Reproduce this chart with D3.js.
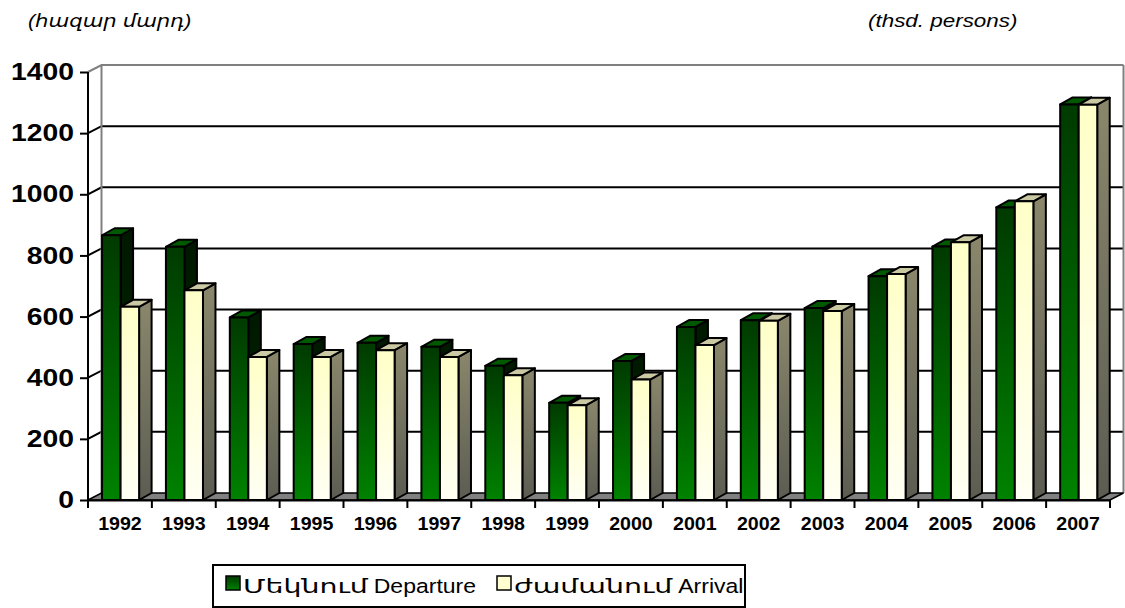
<!DOCTYPE html>
<html>
<head>
<meta charset="utf-8">
<script src="https://cdn.jsdelivr.net/npm/d3@7"></script>
<style>
  body { margin: 0; background: #fff; }
  svg { display: block; font-family: "Liberation Sans", Arial, "DejaVu Sans", sans-serif; }
</style>
</head>
<body>
<svg id="chart" width="1125" height="608"></svg>
<script>
// values (thousand persons)
const years = ["1992","1993","1994","1995","1996","1997","1998","1999",
               "2000","2001","2002","2003","2004","2005","2006","2007"];
const departure = [866, 828, 597, 510, 514, 501, 439, 318, 455, 566, 588, 628, 732, 829, 957, 1294];
const arrival   = [632, 686, 468, 468, 490, 468, 408, 310, 394, 507, 586, 618, 739, 843, 977, 1293];
const yTicks = [0, 200, 400, 600, 800, 1000, 1200, 1400];
const seriesArm = ["Մեկնում", "ժամանում"];
const seriesEng = ["Departure", "Arrival"];

const svg = d3.select("#chart");
const defs = svg.append("defs");

// the original picture is a bit wider than normal text, so text is stretched
const sx = 1.18;

const x = d3.scaleBand().domain(years).range([88, 1110]);
const x1 = d3.scaleBand().domain(["dep", "arr"])
    .range([x.bandwidth() * 0.22, x.bandwidth() * 0.8]);
const y = d3.scaleLinear().domain([0, 1400]).range([500, 72]);

// 3d depth of the walls and of the bars
const wdx = 13.5, wdy = -7;
const bdx = 12.5, bdy = -7;

function grad(id, top, bottom) {
    const g = defs.append("linearGradient").attr("id", id)
        .attr("x1", 0).attr("y1", 0).attr("x2", 0).attr("y2", 1);
    g.append("stop").attr("offset", "0%").attr("stop-color", top);
    g.append("stop").attr("offset", "100%").attr("stop-color", bottom);
}
grad("depFront", "#003a00", "#008200");
grad("depSide", "#001800", "#002c00");
grad("arrFront", "#ffffc8", "#fffff4");
grad("arrSide", "#8a876c", "#5c5c52");

const x0 = x.range()[0], xEnd = x.range()[1];

// back wall gridlines (with the diagonal part on the left wall)
const grid = svg.append("g");
grid.selectAll("path.grid")
    .data(yTicks.filter(d => d > 0))
    .join("path")
    .attr("fill", "none")
    .attr("stroke", d => d === 1400 ? "#808080" : "#000")
    .attr("stroke-width", 2)
    .attr("d", d => `M${x0},${y(d)} L${x0 + wdx},${y(d) + wdy} L${xEnd + wdx},${y(d) + wdy}`);

// wall edges
grid.append("path")
    .attr("fill", "none").attr("stroke", "#808080").attr("stroke-width", 2)
    .attr("d", `M${x0 + wdx},${y(0) + wdy} L${x0 + wdx},${y(1400) + wdy}
                M${xEnd + wdx},${y(0) + wdy} L${xEnd + wdx},${y(1400) + wdy}`);

// floor
svg.append("path")
    .attr("fill", "#808080").attr("stroke", "#000").attr("stroke-width", 1.5)
    .attr("d", `M${x0},${y(0)} L${xEnd},${y(0)} L${xEnd + wdx},${y(0) + wdy} L${x0 + wdx},${y(0) + wdy} Z`);

// bars
const rows = years.map((yr, i) => ({ year: yr, dep: departure[i], arr: arrival[i] }));
const style = {
    dep: { front: "url(#depFront)", side: "url(#depSide)", top: "#005800" },
    arr: { front: "url(#arrFront)", side: "url(#arrSide)", top: "#cbc9a4" }
};

const groups = svg.append("g").selectAll("g")
    .data(rows)
    .join("g")
    .attr("transform", d => `translate(${x(d.year)},0)`);

["dep", "arr"].forEach(key => {
    const bar = groups.append("g")
        .attr("stroke", "#000").attr("stroke-width", 2).attr("stroke-linejoin", "round");
    const w = x1.bandwidth();
    const bx = x1(key);
    bar.append("path")
        .attr("fill", style[key].side)
        .attr("d", d => `M${bx + w},${y(d[key])} L${bx + w + bdx},${y(d[key]) + bdy}
                         L${bx + w + bdx},${y(0) + bdy} L${bx + w},${y(0)} Z`);
    bar.append("path")
        .attr("fill", style[key].top)
        .attr("d", d => `M${bx},${y(d[key])} L${bx + bdx},${y(d[key]) + bdy}
                         L${bx + w + bdx},${y(d[key]) + bdy} L${bx + w},${y(d[key])} Z`);
    bar.append("rect")
        .attr("x", bx).attr("width", w)
        .attr("y", d => y(d[key]))
        .attr("height", d => y(0) - y(d[key]))
        .attr("fill", style[key].front);
});

// y axis
const yAxis = svg.append("g")
    .attr("transform", `translate(${x0},0)`)
    .call(d3.axisLeft(y).tickValues(yTicks).tickSize(8).tickPadding(6).tickFormat(d3.format("d")));
yAxis.select(".domain").attr("stroke", "#000").attr("stroke-width", 2).attr("d", `M0,${y(1400)}V${y(0)}`);
yAxis.selectAll(".tick line").attr("stroke", "#000").attr("stroke-width", 2);
yAxis.selectAll(".tick text")
    .attr("font-size", 24).attr("font-weight", "bold").attr("fill", "#000")
    .attr("font-family", "Liberation Sans, Arial, sans-serif")
    .attr("x", -14 / sx)
    .attr("transform", `scale(${sx},1)`);

// x axis: line, boundary ticks and labels
const xAxis = svg.append("g")
    .attr("transform", `translate(0,${y(0)})`)
    .call(d3.axisBottom(x).tickSize(0).tickPadding(17));
xAxis.select(".domain").attr("stroke", "#000").attr("stroke-width", 2);
xAxis.selectAll(".tick text")
    .attr("font-size", 18.5).attr("font-weight", "bold").attr("fill", "#000")
    .attr("font-family", "Liberation Sans, Arial, sans-serif")
    .attr("transform", "scale(1.06,1)");
xAxis.selectAll("line.bound")
    .data(years.map(d => x(d)).concat([xEnd]))
    .join("line")
    .attr("class", "bound")
    .attr("x1", d => d).attr("x2", d => d)
    .attr("y1", 0).attr("y2", 8)
    .attr("stroke", "#000").attr("stroke-width", 2);

// unit labels
svg.append("text")
    .attr("transform", `translate(28,27) scale(${sx},1)`)
    .attr("font-size", 18).attr("font-style", "italic")
    .text("(հազար մարդ)");
svg.append("text")
    .attr("transform", `translate(868,27) scale(${sx},1)`)
    .attr("font-size", 19).attr("font-style", "italic")
    .text("(thsd. persons)");

// legend
const armScale = 1.42;
const legend = svg.append("g");
legend.append("rect")
    .attr("x", 213).attr("y", 565).attr("width", 532).attr("height", 42)
    .attr("fill", "#fff").attr("stroke", "#000").attr("stroke-width", 2);
const legendItems = [
    { arm: seriesArm[0], eng: seriesEng[0], fill: "url(#depFront)", lx: 226 },
    { arm: seriesArm[1], eng: seriesEng[1], fill: "#ffffd0", lx: 497 }
];
legendItems.forEach(d => {
    const g = legend.append("g");
    g.append("rect")
        .attr("x", d.lx).attr("y", 576).attr("width", 14).attr("height", 14)
        .attr("fill", d.fill).attr("stroke", "#000").attr("stroke-width", 1.5);
    const arm = g.append("text")
        .attr("transform", `translate(${d.lx + 17},593) scale(${armScale},1)`)
        .attr("font-size", 20)
        .text(d.arm);
    const armW = arm.node().getComputedTextLength() * armScale;
    g.append("text")
        .attr("transform", `translate(${d.lx + 17 + armW + 6},593) scale(${sx},1)`)
        .attr("font-size", 19.5)
        .text(d.eng);
});
</script>
</body>
</html>
